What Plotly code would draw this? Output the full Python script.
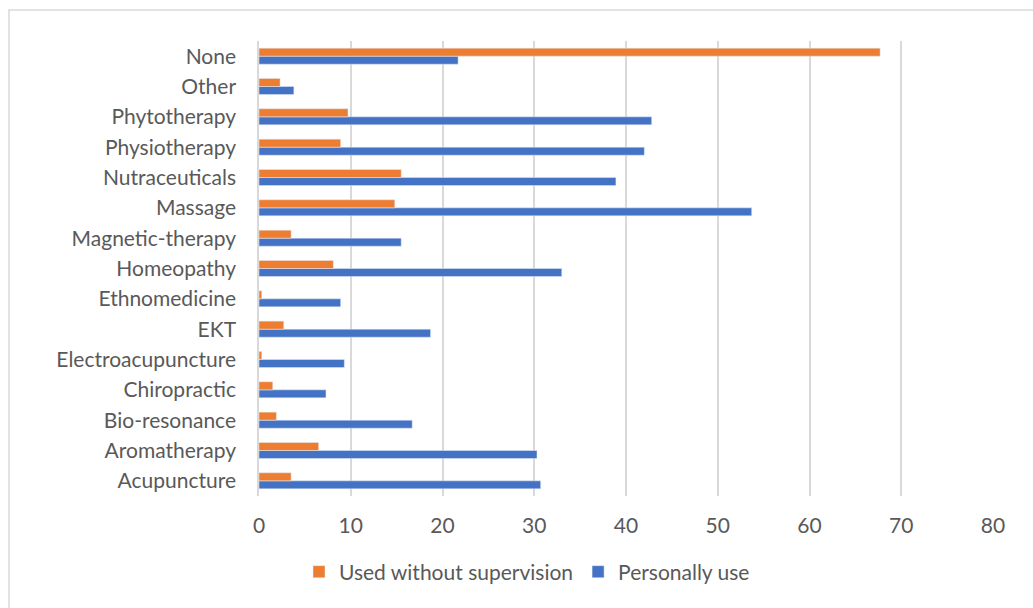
import plotly.graph_objects as go

categories = ["Acupuncture", "Aromatherapy", "Bio-resonance", "Chiropractic",
              "Electroacupuncture", "EKT", "Ethnomedicine", "Homeopathy",
              "Magnetic-therapy", "Massage", "Nutraceuticals", "Physiotherapy",
              "Phytotherapy", "Other", "None"]
used_without_supervision = [3.5, 6.5, 1.9, 1.5, 0.3, 2.7, 0.3, 8.1,
                            3.5, 14.8, 15.5, 8.9, 9.7, 2.3, 67.7]
personally_use = [30.7, 30.3, 16.7, 7.3, 9.3, 18.7, 8.9, 33.0,
                  15.5, 53.7, 38.9, 42.0, 42.8, 3.8, 21.7]
x_ticks = [0, 10, 20, 30, 40, 50, 60, 70, 80]

FONT = "Lato"
GRAY = "#595959"
FS = 21

fig = go.Figure()
fig.add_trace(go.Bar(y=categories, x=personally_use, orientation="h",
                     name="Personally use", marker_color="#4472C4",
                     legendrank=2))
fig.add_trace(go.Bar(y=categories, x=used_without_supervision, orientation="h",
                     name="Used without supervision", marker_color="#ED7D31",
                     legendrank=1))

L, R, T, B = 259, 40, 41, 112
W, H = 1033, 608
pw, ph = W - L - R, H - T - B

fig.update_layout(
    width=W, height=H,
    margin=dict(l=L, r=R, t=T, b=B),
    barmode="group", bargap=0.47, bargroupgap=0,
    plot_bgcolor="white", paper_bgcolor="white",
    font=dict(family=FONT, color=GRAY, size=FS),
    showlegend=True,
    legend=dict(orientation="h", x=(527 - L) / pw, xanchor="center",
                y=-0.122, yanchor="top", itemwidth=30,
                font=dict(size=FS, color=GRAY), traceorder="normal"),
    xaxis=dict(range=[0, 80], tickvals=x_ticks, showgrid=True,
               gridcolor="#d9d9d9", gridwidth=1.5, zeroline=False,
               showline=False, ticks="", ticklabelstandoff=15,
               tickfont=dict(size=FS, color=GRAY)),
    yaxis=dict(categoryorder="array", categoryarray=categories,
               showgrid=False, showline=True, linecolor="#d9d9d9", linewidth=1.5,
               ticks="", ticklabelstandoff=17, tickfont=dict(size=FS, color=GRAY)),
    shapes=[dict(type="rect", xref="paper", yref="paper",
                 x0=(9 - L) / pw, x1=(W + 5 - L) / pw,
                 y0=(T + ph - (H + 5)) / ph, y1=(T + ph - 10) / ph,
                 line=dict(color="#d9d9d9", width=1.5), fillcolor="rgba(0,0,0,0)",
                 layer="below")],
)

fig.write_html("out.html")
